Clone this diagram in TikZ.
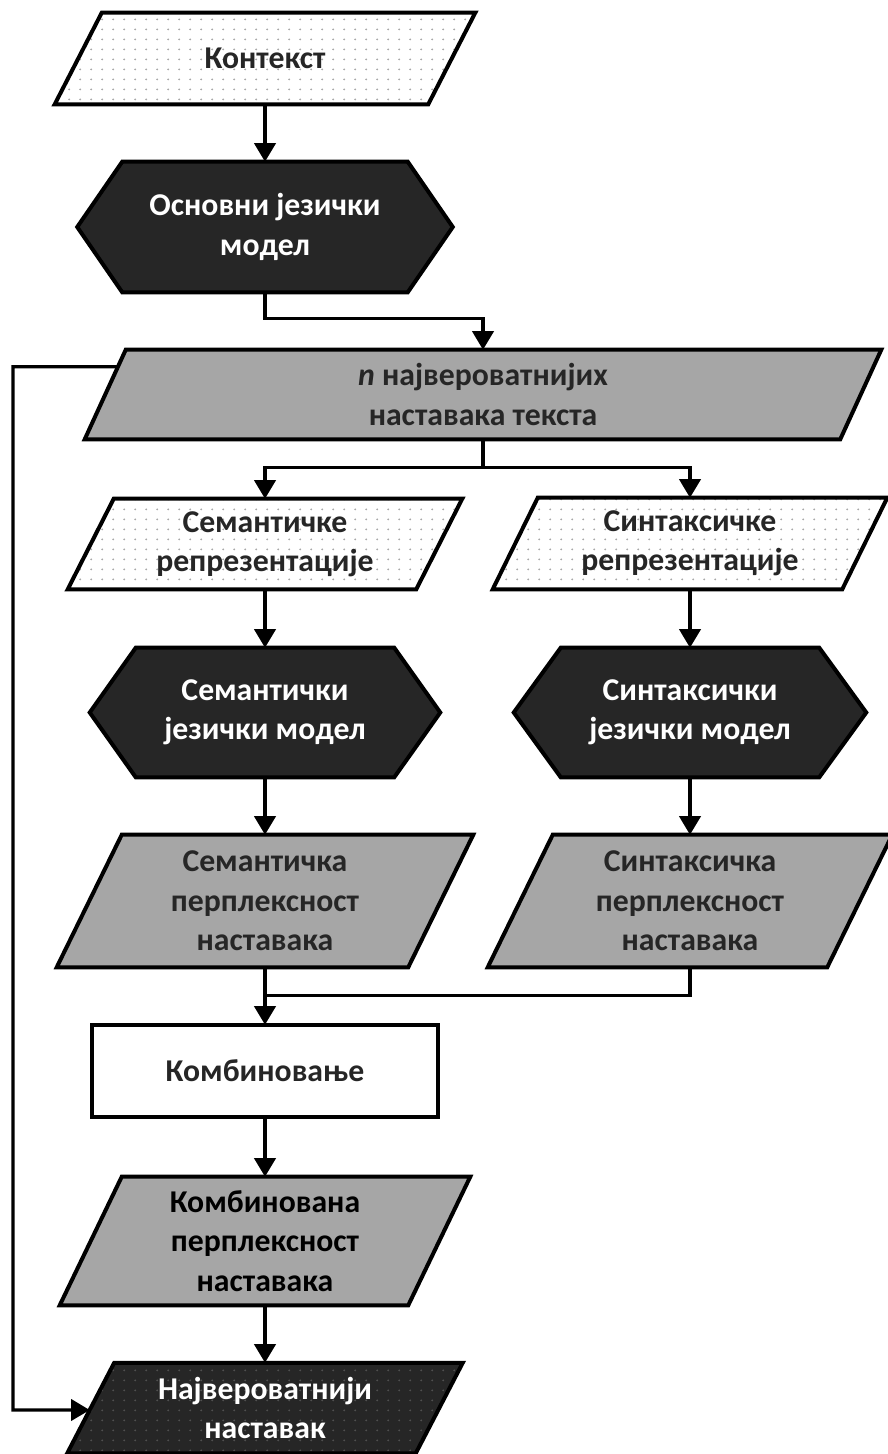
\documentclass[tikz,border=0pt]{standalone}
\usepackage{fontspec}
\setmainfont{Carlito}
\usetikzlibrary{calc,arrows.meta,backgrounds,patterns.meta}

\definecolor{ink}{HTML}{262626}
\definecolor{midgray}{HTML}{A6A6A6}
\definecolor{dotlight}{HTML}{A8A8A8}
\definecolor{dotdark}{HTML}{505050}

% small dot grid used inside the input/output boxes
\tikzdeclarepattern{
  name=dotgrid,
  type=uncolored,
  bounding box={(0pt,0pt) and (8pt,7.5pt)},
  tile size={(8pt,7.5pt)},
  code={\fill (4pt,3.75pt) circle (0.8pt);}
}

% parallelogram drawn on the bounding box of a node: name, slant, style
\newcommand\parashape[3]{%
  \path[#3] ($(#1.north west)+(#2,0)$) -- (#1.north east)
    -- ($(#1.south east)-(#2,0)$) -- (#1.south west) -- cycle;}
% pointed hexagon drawn on the bounding box of a node: name, indent, style
\newcommand\hexshape[3]{%
  \path[#3] (#1.west) -- ($(#1.north west)+(#2,0)$) -- ($(#1.north east)-(#2,0)$)
    -- (#1.east) -- ($(#1.south east)-(#2,0)$) -- ($(#1.south west)+(#2,0)$) -- cycle;}

\tikzset{
  blk/.style 2 args={rectangle, draw=none, inner sep=0pt, align=center,
    minimum width=#1*0.75pt, minimum height=#2*0.75pt,
    font=\bfseries\fontsize{23.8}{29.5}\selectfont},
  txtdark/.style={text=ink},
  txtlight/.style={text=white},
  border/.style={draw=black, line width=3pt, line join=miter},
  lightbox/.style={border, preaction={fill=white}, pattern=dotgrid, pattern color=dotlight},
  darkdots/.style={border, preaction={fill=ink}, pattern=dotgrid, pattern color=dotdark},
  graybox/.style={border, fill=midgray},
  darkbox/.style={border, fill=ink},
  whitebox/.style={border, fill=white},
  conn/.style={draw=black, line width=2.4pt},
  arr/.style={conn, -{Triangle[width=16pt,length=14pt]}},
}

\begin{document}
\begin{tikzpicture}[x=0.75pt, y=-0.75pt]
\useasboundingbox (0,0) rectangle (888,1454);

% text nodes (their bounding boxes carry the outlines)
\node[blk={420}{91}, txtdark]  (ctx)   at (265,58.5)  {Контекст};
\node[blk={375}{130}, txtlight] (base) at (265,227)   {Основни језички\\модел};
\node[blk={796}{89}, txtdark]  (cand)  at (483,394.5) {\textit{n} највероватнијих\\наставака текста};
\node[blk={394}{90}, txtdark]  (sem)   at (265,544)   {Семантичке\\репрезентације};
\node[blk={394}{91}, txtdark]  (syn)   at (690,543.5) {Синтаксичке\\репрезентације};
\node[blk={350}{129}, txtlight] (semlm) at (265,712.5) {Семантички\\језички модел};
\node[blk={352}{129}, txtlight] (synlm) at (690,712.5) {Синтаксички\\језички модел};
\node[blk={416}{132}, txtdark] (semp)  at (265,901)   {Семантичка\\перплексност\\наставака};
\node[blk={404}{132}, txtdark] (synp)  at (690,901)   {Синтаксичка\\перплексност\\наставака};
\node[blk={346}{92}, txtdark]  (comb)  at (265,1071)  {Комбиновање};
\node[blk={410}{128}, text=black] (combp) at (265,1241) {Комбинована\\перплексност\\наставака};
\node[blk={395}{90}, txtlight] (final) at (265,1408)  {Највероватнији\\наставак};

\begin{pgfonlayer}{background}
  \parashape{ctx}{47}{lightbox}
  \hexshape{base}{45}{darkbox}
  \parashape{cand}{41}{graybox}
  \parashape{sem}{46}{lightbox}
  \parashape{syn}{45}{lightbox}
  \hexshape{semlm}{46}{darkbox}
  \hexshape{synlm}{47}{darkbox}
  \parashape{semp}{65}{graybox}
  \parashape{synp}{65}{graybox}
  \path[whitebox] (comb.north west) rectangle (comb.south east);
  \parashape{combp}{62}{graybox}
  \parashape{final}{47}{darkdots}
\end{pgfonlayer}

% connectors
\draw[arr] (ctx.south) -- (base.north);
\draw[arr] (base.south) -- ++(0,26) -| (cand.north);
\draw[conn] (cand.south) -- ++(0,28) coordinate (split);
\draw[arr] (split) -| (sem.north);
\draw[arr] (split) -| (syn.north);
\draw[arr] (sem.south) -- (semlm.north);
\draw[arr] (syn.south) -- (synlm.north);
\draw[arr] (semlm.south) -- (semp.north);
\draw[arr] (synlm.south) -- (synp.north);
\draw[arr] (semp.south) -- (comb.north);
\draw[conn] (synp.south) -- ++(0,28) -| ($(semp.south)+(0,28)$);
\draw[arr] (comb.south) -- (combp.north);
\draw[arr] (combp.south) -- (final.north);

% feedback of the candidate list to the final choice
\coordinate (loopA) at ($($(cand.north west)+(41,0)$)!0.191!(cand.south west)$);
\coordinate (loopB) at ($($(final.north west)+(47,0)$)!0.522!(final.south west)$);
\coordinate (rail) at (13,1410);
\draw[arr] (loopA) -| (rail) -- (loopB);
\end{tikzpicture}
\end{document}
